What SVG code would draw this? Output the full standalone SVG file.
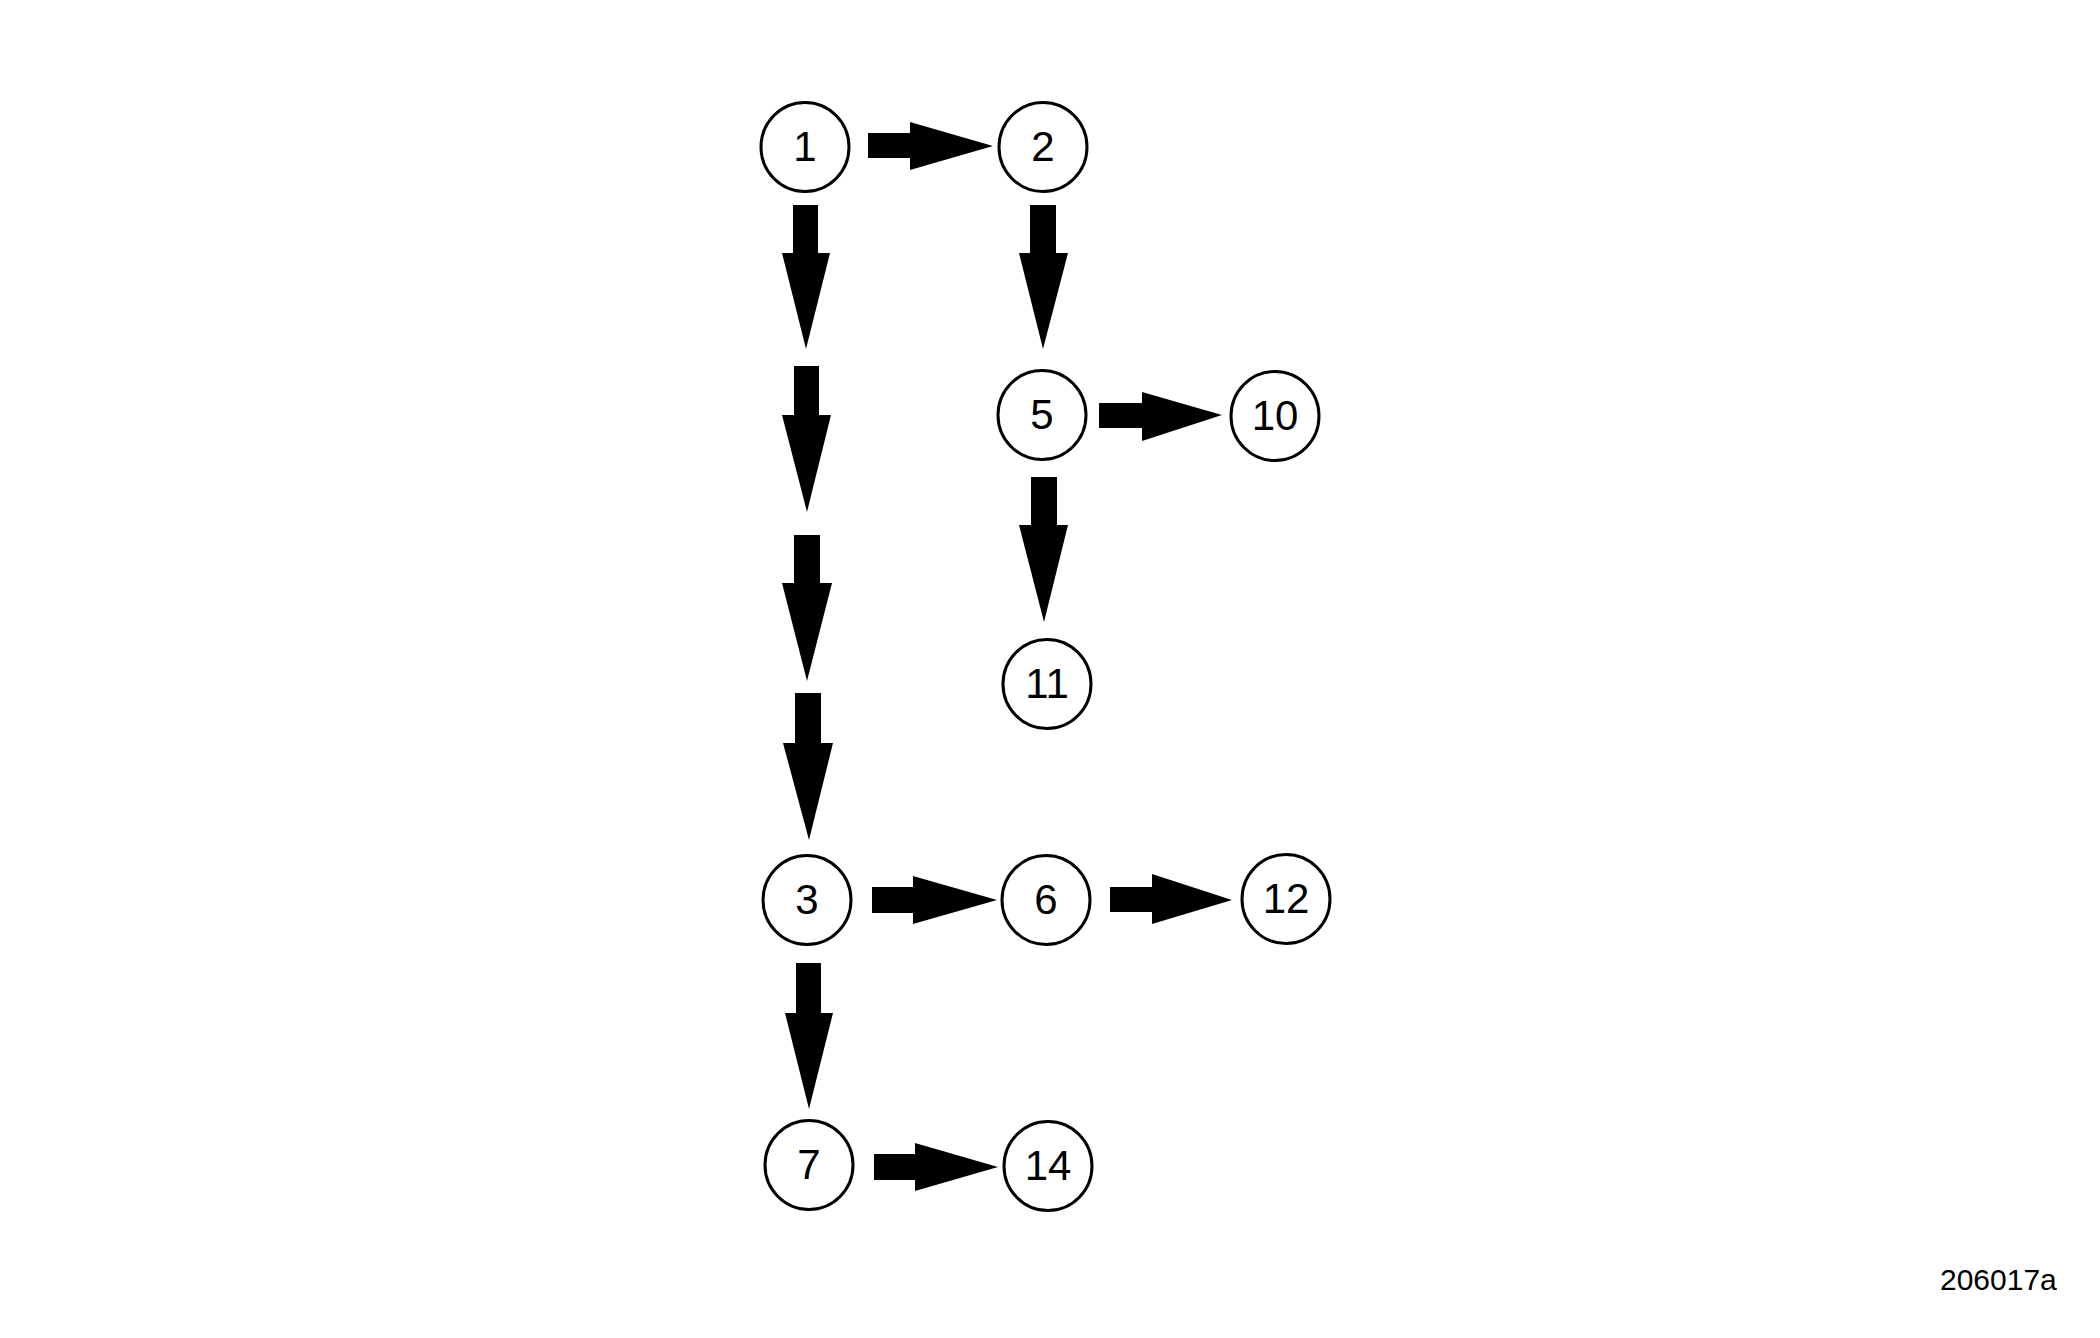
<svg xmlns="http://www.w3.org/2000/svg" width="2100" height="1338" viewBox="0 0 2100 1338">
<style>
.node ellipse{fill:#fff;stroke:#000;stroke-width:3}
.node text{font-family:"Liberation Sans",Arial,sans-serif;font-size:42px;text-anchor:middle;fill:#000}
.arrow{fill:#000;stroke:none}
.code{font-family:"Liberation Sans",Arial,sans-serif;font-size:30px;fill:#000}
</style>
<rect width="2100" height="1338" fill="#fff"/>
<g id="connectors">
<polygon class="arrow" points="868,133 910,133 910,122 993,146 910,170 910,158 868,158"/>
<polygon class="arrow" points="1099,403 1142,403 1142,392 1222,415 1142,441 1142,428 1099,428"/>
<polygon class="arrow" points="872,887 913,887 913,876 997,900 913,924 913,913 872,913"/>
<polygon class="arrow" points="1110,887 1152,887 1152,874 1232,900 1152,924 1152,912 1110,912"/>
<polygon class="arrow" points="874,1154 915,1154 915,1143 998,1167 915,1191 915,1180 874,1180"/>
<polygon class="arrow" points="793,205 818,205 818,253 830,253 806,349 782,253 793,253"/>
<polygon class="arrow" points="794,366 819,366 819,415 831,415 807,512 782,415 794,415"/>
<polygon class="arrow" points="794,535 820,535 820,583 832,583 807,681 782,583 794,583"/>
<polygon class="arrow" points="795,693 821,693 821,743 833,743 809,840 783,743 795,743"/>
<polygon class="arrow" points="1030,205 1056,205 1056,253 1068,253 1043,349 1019,253 1030,253"/>
<polygon class="arrow" points="1031,477 1057,477 1057,525 1068,525 1044,622 1019,525 1031,525"/>
<polygon class="arrow" points="796,963 821,963 821,1013 833,1013 809,1109 785,1013 796,1013"/>
</g>
<g id="node-1" class="node"><ellipse cx="805" cy="147" rx="44" ry="44.5"/><text x="805" y="161">1</text></g>
<g id="node-2" class="node"><ellipse cx="1043" cy="147" rx="44" ry="44.5"/><text x="1043" y="161">2</text></g>
<g id="node-5" class="node"><ellipse cx="1042" cy="415" rx="44" ry="44.5"/><text x="1042" y="429">5</text></g>
<g id="node-10" class="node"><ellipse cx="1275" cy="416" rx="44" ry="44.5"/><text x="1275" y="430">10</text></g>
<g id="node-11" class="node"><ellipse cx="1047" cy="684" rx="44" ry="44.5"/><text x="1047" y="698">11</text></g>
<g id="node-3" class="node"><ellipse cx="807" cy="900" rx="44" ry="44.5"/><text x="807" y="914">3</text></g>
<g id="node-6" class="node"><ellipse cx="1046" cy="900" rx="44" ry="44.5"/><text x="1046" y="914">6</text></g>
<g id="node-12" class="node"><ellipse cx="1286" cy="899" rx="44" ry="44.5"/><text x="1286" y="913">12</text></g>
<g id="node-7" class="node"><ellipse cx="809" cy="1165" rx="44" ry="44.5"/><text x="809" y="1179">7</text></g>
<g id="node-14" class="node"><ellipse cx="1048" cy="1166" rx="44" ry="44.5"/><text x="1048" y="1180">14</text></g>
<text class="code" x="1940" y="1290">206017a</text>
</svg>
